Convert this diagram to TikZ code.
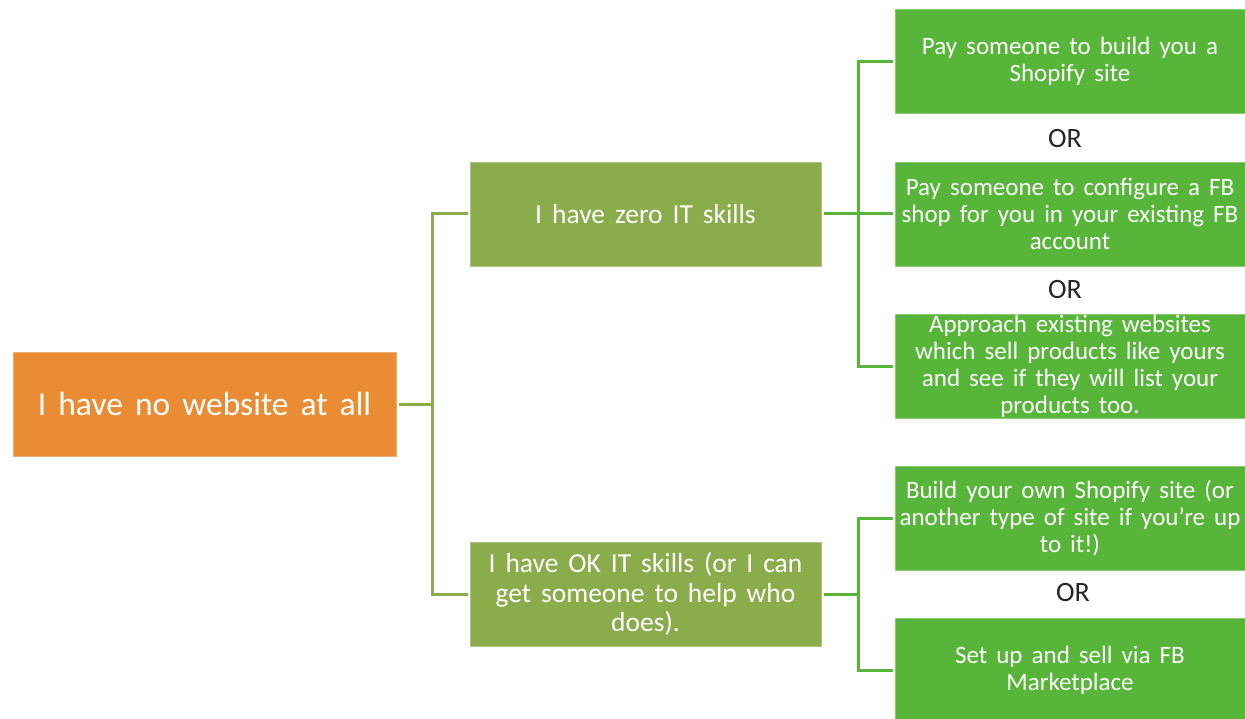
\documentclass[tikz,border=0pt]{standalone}
\usepackage{fontspec}
\setmainfont{Carlito}[WordSpace=1.6]
\definecolor{orangebox}{HTML}{E98C33}
\definecolor{olivebox}{HTML}{8BAC4B}
\definecolor{greenbox}{HTML}{57B539}
\definecolor{ortext}{HTML}{262626}
\begin{document}
\begin{tikzpicture}[x=1pt,y=-1pt,
  box/.style={rectangle, inner sep=0pt, align=center, text=white},
  rootbox/.style={box, fill=orangebox, draw=orangebox!70!white, line width=0.8pt,
     minimum width=383pt, minimum height=104pt, font=\fontsize{33.5}{40}\selectfont},
  midbox/.style={box, fill=olivebox, draw=olivebox!70!white, line width=0.8pt,
     minimum width=351pt, minimum height=104pt, font=\fontsize{27.5}{29.5}\selectfont},
  leafbox/.style={box, fill=greenbox, draw=greenbox!70!white, line width=0.8pt,
     minimum width=350pt, minimum height=104pt, font=\fontsize{25}{27}\selectfont},
  orlabel/.style={text=ortext, font=\fontsize{28}{30}\selectfont, inner sep=0pt},
  olink/.style={draw=olivebox, line width=3pt},
  glink/.style={draw=greenbox, line width=3pt}]
\useasboundingbox (0,0) rectangle (1245,719);

\node[rootbox] (root) at (204.5,404) {I have no website at all};
\node[midbox] (zero) at (645.5,214) {I have zero IT skills};
\node[midbox] (ok) at (645.5,594) {I have OK IT skills (or I can\\get someone to help who\\does).};

\node[leafbox] (g1) at (1070,61.5) {Pay someone to build you a\\Shopify site};
\node[leafbox] (g2) at (1070,214) {Pay someone to configure a FB\\shop for you in your existing FB\\account};
\node[leafbox] (g3) at (1070,366) {Approach existing websites\\which sell products like yours\\and see if they will list your\\products too.};
\node[leafbox] (g4) at (1070,518) {Build your own Shopify site (or\\another type of site if you’re up\\to it!)};
\node[leafbox] (g5) at (1070,670) {Set up and sell via FB\\Marketplace};

\node[orlabel] (or1) at (1065,139) {OR};
\node[orlabel] (or2) at (1065,290) {OR};
\node[orlabel] (or3) at (1073,593) {OR};

\coordinate (rj) at (432,404);
\coordinate (zj) at (858,214);
\coordinate (kj) at (858,594);

\draw[olink] ([xshift=3pt]root.east) -- (rj);
\draw[olink] (rj) |- ([xshift=-2pt]zero.west);
\draw[olink] (rj) |- ([xshift=-2pt]ok.west);

\draw[glink] ([xshift=3pt]zero.east) -- (zj);
\draw[glink] (zj) |- ([xshift=-2pt]g1.west);
\draw[glink] (zj) |- ([xshift=-2pt]g2.west);
\draw[glink] (zj) |- ([xshift=-2pt]g3.west);

\draw[glink] ([xshift=3pt]ok.east) -- (kj);
\draw[glink] (kj) |- ([xshift=-2pt]g4.west);
\draw[glink] (kj) |- ([xshift=-2pt]g5.west);
\end{tikzpicture}
\end{document}
